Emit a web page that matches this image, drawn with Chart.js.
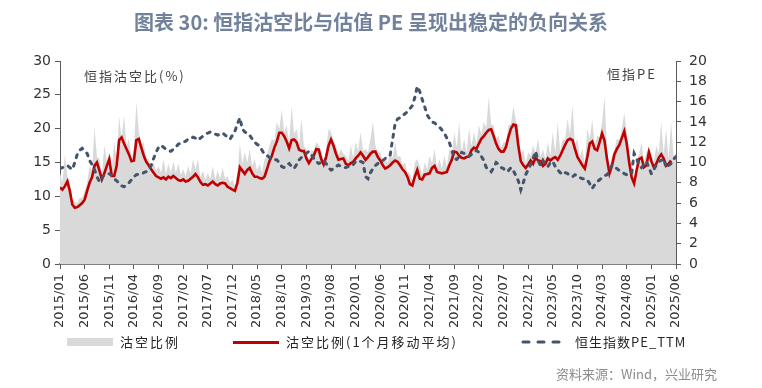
<!DOCTYPE html>
<html>
<head>
<meta charset="utf-8">
<script src="https://cdn.jsdelivr.net/npm/chart.js@4.4.1/dist/chart.umd.min.js"></script>
<style>
  body { margin: 0; background: #fff; }
  #wrap { position: relative; width: 762px; height: 388px; overflow: hidden; font-family: "Noto Sans CJK SC", "DejaVu Sans", sans-serif; }
  #chart { position: absolute; left: 0; top: 0; }
  .txt { position: absolute; white-space: nowrap; line-height: 1; }
  #title { left: 0; width: 742px; top: 12px; text-align: center; font-size: 20px; font-weight: bold; color: #72829c; }
  .axis-name { font-size: 13px; color: #404040; letter-spacing: 2px; }
  .legend { font-size: 13px; color: #262626; letter-spacing: 2px; top: 335px; }
  .swatch { position: absolute; }
  #source { left: 556px; top: 367px; font-size: 13px; color: #8c8c8c; }
</style>
</head>
<body>
<div id="wrap">
  <canvas id="chart" width="762" height="388"></canvas>
  <div id="title" class="txt">图表 30: 恒指沽空比与估值 PE 呈现出稳定的负向关系</div>
  <div class="txt axis-name" style="left:84px; top:69px;">恒指沽空比(%)</div>
  <div class="txt axis-name" style="left:607px; top:67px;">恒指PE</div>

  <div class="swatch" style="left:67px; top:338px; width:46px; height:8px; background:#d9d9d9;"></div>
  <div class="txt legend" style="left:120px;">沽空比例</div>
  <div class="swatch" style="left:233px; top:341px; width:46px; height:3px; background:#c00000;"></div>
  <div class="txt legend" style="left:286px;">沽空比例(1个月移动平均)</div>
  <canvas id="dash" class="swatch" width="50" height="8" style="left:520px; top:338px;"></canvas>
  <div class="txt legend" style="left:575px; letter-spacing:1px;">恒生指数PE_TTM</div>

  <div id="source" class="txt">资料来源：Wind，兴业研究</div>
</div>
<script>
// x ticks every 5 months, 2015/01 .. 2025/06
const xTickLabels = [
  '2015/01', '2015/06', '2015/11', '2016/04', '2016/09', '2017/02', '2017/07',
  '2017/12', '2018/05', '2018/10', '2019/03', '2019/08', '2020/01', '2020/06',
  '2020/11', '2021/04', '2021/09', '2022/02', '2022/07', '2022/12', '2023/05',
  '2023/10', '2024/03', '2024/08', '2025/01', '2025/06'
];
const leftTicks = [0, 5, 10, 15, 20, 25, 30];
const rightTicks = [0, 2, 4, 6, 8, 10, 12, 14, 16, 18, 20];

// all series sampled every half month starting 2015/01
const STEP = 0.5;

// 沽空比例 (daily, left axis %)
const shortRatio = [
  13.5, 12.0, 16.2, 13.0, 12.0, 9.5, 9.2, 9.0, 9.8, 9.8, 10.8, 12.0, 14.5, 13.8, 20.2, 15.8, 15.5, 13.5, 17.5, 15.2, 16.5, 14.0, 18.0, 15.5,
  21.8, 18.5, 22.0, 17.5, 18.5, 15.5, 17.0, 24.0, 19.5, 17.5, 18.0, 15.5, 15.5, 14.5, 15.0, 13.8, 14.5, 13.5, 15.5, 13.3, 14.8, 13.5, 15.2, 13.5,
  14.8, 13.2, 14.0, 13.0, 14.5, 13.3, 15.5, 14.0, 15.5, 12.8, 13.8, 12.5, 13.5, 12.6, 14.5, 12.5, 13.8, 12.6, 14.2, 12.6, 13.0, 12.0, 12.5, 11.5,
  13.5, 17.8, 14.8, 16.5, 15.0, 17.0, 14.5, 15.5, 13.8, 14.8, 13.5, 15.5, 16.0, 17.5, 18.5, 18.2, 21.0, 20.0, 22.8, 19.5, 20.5, 18.0, 23.3, 19.2,
  20.0, 17.6, 21.5, 17.4, 17.0, 15.6, 16.8, 16.7, 18.0, 17.6, 16.8, 15.4, 17.0, 20.0, 19.5, 18.2, 17.5, 16.1, 17.0, 16.3, 16.0, 15.3, 17.5, 15.8,
  18.0, 16.7, 19.5, 16.7, 17.0, 16.5, 18.5, 21.0, 17.5, 16.5, 16.5, 15.3, 15.5, 15.0, 16.5, 15.7, 18.0, 15.8, 16.0, 14.7, 15.0, 13.6, 13.5, 12.3,
  15.0, 15.5, 14.5, 13.2, 15.0, 14.0, 16.0, 14.9, 17.0, 14.3, 15.5, 14.1, 16.0, 14.3, 17.0, 16.1, 19.5, 17.2, 21.0, 16.4, 18.5, 16.5, 20.0, 17.5,
  19.5, 17.7, 20.5, 19.2, 21.0, 20.1, 24.7, 20.6, 20.5, 18.5, 19.0, 17.3, 18.0, 18.0, 20.5, 20.7, 23.3, 21.2, 20.3, 15.9, 17.0, 14.9, 16.5, 16.0,
  17.5, 16.4, 18.5, 15.9, 17.0, 15.5, 18.0, 16.0, 19.5, 16.5, 21.0, 16.7, 18.5, 18.3, 21.5, 19.2, 23.5, 17.7, 18.5, 15.9, 17.0, 14.8, 20.0, 18.5,
  21.3, 17.7, 19.0, 18.7, 21.0, 24.7, 17.0, 14.1, 16.0, 16.9, 18.5, 18.3, 20.0, 22.3, 19.5, 15.7, 15.0, 12.6, 15.5, 16.2, 18.0, 15.0, 16.5, 17.2,
  16.5, 15.0, 17.5, 16.4, 21.0, 16.3, 20.0, 15.5, 21.0, 16.0, 16.0
];

// 沽空比例(1个月移动平均), left axis %
const shortRatioMA = [
  11.3, 11.0, 11.5, 12.2, 10.8, 8.8, 8.3, 8.4, 8.7, 9.0, 9.5, 10.8, 12.0, 12.8, 14.5, 15.0, 13.8, 12.5, 13.4, 14.5, 15.5, 13.0, 13.0, 14.5,
  18.3, 18.7, 17.8, 17.0, 16.2, 15.2, 15.3, 18.3, 18.5, 17.2, 16.0, 15.1, 14.6, 14.0, 13.5, 13.0, 12.8, 12.6, 12.8, 12.5, 12.9, 12.7, 13.0, 12.7,
  12.4, 12.3, 12.5, 12.2, 12.3, 12.6, 12.9, 13.3, 12.8, 12.1, 11.7, 11.8, 11.6, 11.9, 12.2, 11.8, 11.6, 11.9, 12.0, 11.9, 11.4, 11.2, 11.0, 10.8,
  12.0, 14.3, 13.8, 13.3, 13.9, 14.2, 13.4, 12.9, 12.9, 12.7, 12.6, 12.9, 14.0, 15.2, 16.0, 17.2, 18.1, 19.4, 19.4, 18.9, 18.1, 17.1, 18.3, 18.4,
  18.0, 16.9, 16.7, 16.7, 15.6, 14.9, 15.5, 16.0, 17.0, 16.9, 15.5, 14.7, 15.8, 17.5, 18.4, 17.5, 16.3, 15.4, 15.5, 15.6, 14.8, 14.6, 14.9, 15.1,
  15.6, 16.0, 16.5, 16.0, 15.4, 15.8, 16.3, 16.6, 16.6, 15.8, 15.3, 14.6, 14.1, 14.3, 14.6, 15.0, 15.3, 15.1, 14.6, 14.0, 13.6, 12.9, 11.8, 11.6,
  12.9, 13.9, 12.6, 12.5, 13.2, 13.3, 13.4, 14.2, 14.5, 13.6, 13.5, 13.4, 13.5, 13.6, 14.6, 15.4, 16.6, 16.5, 16.0, 15.7, 15.6, 15.8, 15.9, 16.8,
  17.2, 17.0, 17.8, 18.5, 18.9, 19.4, 19.8, 19.9, 18.9, 17.8, 17.0, 16.6, 16.6, 17.3, 18.8, 20.0, 20.6, 20.5, 17.5, 15.2, 14.6, 14.2, 14.7, 15.3,
  14.8, 15.7, 15.3, 15.2, 14.5, 14.8, 15.6, 15.3, 15.6, 15.8, 15.4, 16.0, 16.8, 17.6, 18.3, 18.5, 18.3, 17.0, 15.8, 15.2, 14.6, 14.1, 15.8, 17.8,
  18.1, 17.0, 16.8, 18.0, 19.3, 18.2, 15.5, 13.4, 14.5, 16.2, 17.0, 17.6, 18.6, 19.6, 17.8, 15.0, 12.8, 11.9, 13.8, 15.5, 15.7, 14.3, 14.6, 16.5,
  15.2, 14.3, 14.8, 15.7, 16.2, 15.6, 14.5, 14.8, 15.3
];

// 恒生指数PE_TTM, right axis
const hsiPE = [
  9.4, 9.5, 9.6, 9.7, 9.5, 9.3, 10.0, 10.8, 11.2, 11.4, 11.1, 10.9, 10.2, 9.8, 9.3, 8.6, 8.1, 8.5, 8.8, 8.9, 8.9, 8.7, 8.4, 8.2,
  7.95, 7.7, 7.6, 7.8, 8.0, 8.3, 8.6, 8.8, 8.85, 8.9, 9.0, 9.1, 9.3, 9.7, 10.4, 11.0, 11.5, 11.7, 11.5, 11.3, 11.2, 11.1, 11.3, 11.5,
  11.8, 11.9, 12.0, 12.1, 12.3, 12.4, 12.5, 12.4, 12.2, 12.4, 12.6, 12.8, 12.9, 13.0, 12.9, 12.8, 12.7, 12.8, 12.9, 12.7, 12.5, 12.3, 12.7, 13.1,
  13.8, 14.4, 13.3, 13.0, 12.9, 12.7, 12.3, 12.0, 11.8, 11.6, 11.2, 10.8, 10.7, 10.5, 10.4, 10.3, 10.25, 10.0, 9.6, 9.5, 9.7, 9.9, 9.6, 9.4,
  9.8, 10.25, 10.5, 10.7, 10.9, 11.1, 10.8, 10.4, 10.1, 9.9, 10.0, 10.2, 9.9, 9.5, 9.25, 9.4, 9.6, 9.75, 9.6, 9.5, 9.5, 9.6, 9.6, 9.8,
  10.1, 10.2, 10.1, 10.0, 8.6, 8.4, 9.0, 9.4, 9.7, 9.9, 10.1, 10.2, 10.4, 10.5, 10.75, 12.3, 13.8, 14.3, 14.4, 14.6, 14.8, 15.0, 15.3, 15.6,
  16.4, 17.5, 17.0, 16.2, 15.5, 14.7, 14.3, 14.0, 13.9, 13.7, 13.5, 13.2, 12.9, 12.4, 12.0, 11.2, 10.4, 10.3, 10.6, 11.0, 10.9, 10.7, 10.6, 10.8,
  11.0, 11.2, 11.0, 10.6, 10.2, 9.5, 9.3, 9.1, 9.5, 10.0, 9.8, 9.5, 9.4, 9.1, 9.2, 9.5, 9.2, 8.7, 8.2, 7.3, 8.0, 8.8, 9.3, 9.8,
  10.4, 11.1, 10.2, 9.7, 10.2, 9.8, 9.6, 10.0, 10.1, 9.6, 9.3, 9.0, 8.8, 9.0, 8.9, 8.7, 8.6, 8.8, 8.7, 8.5, 8.4, 8.4, 8.3, 7.9,
  7.45, 7.8, 8.1, 8.3, 8.5, 8.7, 8.8, 9.2, 9.75, 9.6, 9.4, 9.2, 9.1, 8.9, 8.8, 8.85, 8.9, 10.9, 10.4, 9.7, 9.5, 9.8, 10.1, 9.5,
  8.9, 9.3, 9.75, 10.1, 10.2, 10.4, 9.5, 9.7, 9.9, 10.3, 10.6
];

function toPoints(values) {
  return values.map((v, i) => ({ x: i * STEP, y: v }));
}

// legend dash sample
(function () {
  const c = document.getElementById('dash').getContext('2d');
  c.strokeStyle = '#44546a';
  c.lineWidth = 3;
  c.lineCap = 'round';
  c.setLineDash([6, 9]);
  c.beginPath();
  c.moveTo(3, 4);
  c.lineTo(48, 4);
  c.stroke();
})();

const tickFont = { family: 'DejaVu Sans', size: 14 };
const axisColor = '#595959';

new Chart(document.getElementById('chart'), {
  type: 'line',
  data: {
    datasets: [
      {
        label: '沽空比例',
        data: toPoints(shortRatio),
        yAxisID: 'y',
        fill: 'origin',
        backgroundColor: '#d9d9d9',
        borderWidth: 0,
        pointRadius: 0,
        order: 3
      },
      {
        label: '沽空比例(1个月移动平均)',
        data: toPoints(shortRatioMA),
        yAxisID: 'y',
        borderColor: '#c00000',
        borderWidth: 2.6,
        pointRadius: 0,
        fill: false,
        order: 2
      },
      {
        label: '恒生指数PE_TTM',
        data: toPoints(hsiPE),
        yAxisID: 'y1',
        borderColor: '#44546a',
        borderWidth: 3,
        borderDash: [3, 6],
        borderCapStyle: 'round',
        pointRadius: 0,
        fill: false,
        order: 1
      }
    ]
  },
  options: {
    responsive: false,
    animation: false,
    devicePixelRatio: 1,
    layout: { padding: { top: 61, left: 0, right: 0, bottom: 0 } },
    plugins: { legend: { display: false }, tooltip: { enabled: false } },
    scales: {
      x: {
        type: 'linear',
        min: 0,
        max: 125,
        afterFit: (scale) => { scale.height = 124; },
        afterBuildTicks: (scale) => {
          scale.ticks = xTickLabels.map((_, i) => ({ value: i * 5 }));
        },
        ticks: {
          autoSkip: false,
          maxRotation: 90,
          minRotation: 90,
          padding: 5,
          color: '#333',
          font: { family: 'DejaVu Sans', size: 13 },
          callback: (value) => xTickLabels[Math.round(value / 5)]
        },
        grid: { drawOnChartArea: false, tickLength: 5, color: axisColor },
        border: { color: '#808080', width: 2 }
      },
      y: {
        position: 'left',
        min: 0,
        max: 30,
        afterFit: (scale) => { scale.width = 60; },
        afterBuildTicks: (scale) => {
          scale.ticks = leftTicks.map((v) => ({ value: v }));
        },
        ticks: { padding: 4, color: '#333', font: tickFont },
        grid: { drawOnChartArea: false, tickLength: 5, color: axisColor },
        border: { color: axisColor, width: 1 }
      },
      y1: {
        position: 'right',
        min: 0,
        max: 20,
        afterFit: (scale) => { scale.width = 86; },
        afterBuildTicks: (scale) => {
          scale.ticks = rightTicks.map((v) => ({ value: v }));
        },
        ticks: { padding: 8, color: '#333', font: tickFont },
        grid: { drawOnChartArea: false, tickLength: 5, color: axisColor },
        border: { color: axisColor, width: 1 }
      }
    }
  }
});
</script>
</body>
</html>
